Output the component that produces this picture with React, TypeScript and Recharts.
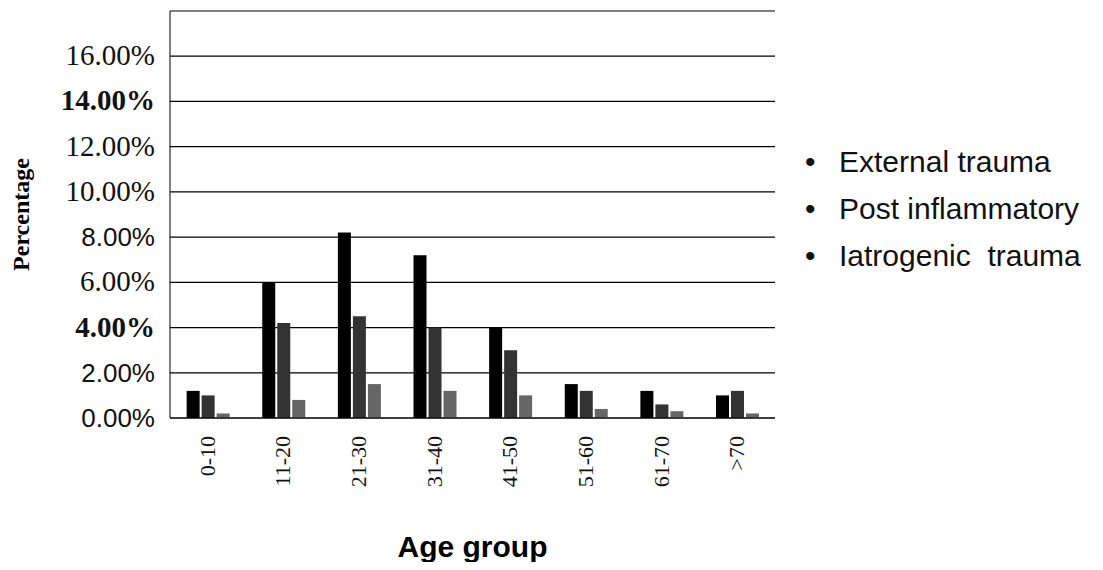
import { BarChart, Bar, XAxis, YAxis, CartesianGrid } from 'recharts';

const ageGroups = ['0-10', '11-20', '21-30', '31-40', '41-50', '51-60', '61-70', '>70'];
const externalTrauma = [0.012, 0.06, 0.082, 0.072, 0.04, 0.015, 0.012, 0.01];
const postInflammatory = [0.01, 0.042, 0.045, 0.04, 0.03, 0.012, 0.006, 0.012];
const iatrogenicTrauma = [0.002, 0.008, 0.015, 0.012, 0.01, 0.004, 0.003, 0.002];
const yTicks = [0, 0.02, 0.04, 0.06, 0.08, 0.1, 0.12, 0.14, 0.16];
const seriesNames = ['External trauma', 'Post inflammatory', 'Iatrogenic  trauma'];

const data = ageGroups.map((g, i) => ({
  name: g,
  ext: externalTrauma[i],
  post: postInflammatory[i],
  iat: iatrogenicTrauma[i],
}));

const serif = '"Liberation Serif", "Times New Roman", serif';
const sans = '"Liberation Sans", Arial, sans-serif';

// the source mixes fonts on the y ticks, keep that
const YTick = (props: any) => {
  const { x, y, payload } = props;
  const v = payload.value;
  const isSans = v === 0 || v === 0.02 || v === 0.08;
  const isBold = v === 0.04 || v === 0.14;
  return (
    <text
      x={x}
      y={y}
      dy={9}
      textAnchor="end"
      fill="#111"
      fontSize={isSans ? 26 : 29}
      fontFamily={isSans ? sans : serif}
      fontWeight={isBold ? 'bold' : 'normal'}
    >
      {(v * 100).toFixed(2) + '%'}
    </text>
  );
};

const XTick = (props: any) => {
  const { x, y, payload } = props;
  return (
    <text
      transform={`translate(${x},${y + 10}) rotate(-90)`}
      textAnchor="end"
      dy={7}
      fill="#111"
      fontSize={22}
      fontFamily={serif}
    >
      {payload.value}
    </text>
  );
};

const LegendBox = () => (
  <div
    style={{
      position: 'absolute',
      left: 797,
      top: 130,
      width: 300,
      fontFamily: sans,
      fontSize: 30,
      color: '#111',
    }}
  >
    {seriesNames.map((n) => (
      <div key={n} style={{ height: 47, lineHeight: '47px', whiteSpace: 'pre' }}>
        <span style={{ display: 'inline-block', width: 34 }}>•</span>
        {n}
      </div>
    ))}
  </div>
);

const App = () => {
  return (
    <div style={{ position: 'relative', width: 1087, height: 554 }}>
      <BarChart
        width={1087}
        height={554}
        data={data}
        margin={{ top: 3, right: 320, left: 0, bottom: 0 }}
        barCategoryGap="22%"
        barGap={2}
      >
        <CartesianGrid vertical={false} stroke="#000" strokeWidth={1.2} />
        <XAxis
          dataKey="name"
          height={144}
          interval={0}
          tick={<XTick />}
          tickLine={false}
          axisLine={{ stroke: '#000' }}
          label={{
            value: 'Age group',
            position: 'insideBottom',
            offset: 5,
            style: { fontFamily: sans, fontSize: 30, fontWeight: 'bold', fill: '#000' },
          }}
        />
        <YAxis
          width={162}
          domain={[0, 0.18]}
          ticks={yTicks}
          tick={<YTick />}
          tickSize={0}
          tickMargin={15}
          tickLine={false}
          axisLine={{ stroke: '#000' }}
          label={{
            value: 'Percentage',
            angle: -90,
            position: 'insideLeft',
            offset: 12,
            style: { fontFamily: serif, fontSize: 24, fontWeight: 'bold', fill: '#000', textAnchor: 'middle' },
          }}
        />
        <Bar dataKey="ext" name={seriesNames[0]} fill="#000" isAnimationActive={false} />
        <Bar dataKey="post" name={seriesNames[1]} fill="#333" isAnimationActive={false} />
        <Bar dataKey="iat" name={seriesNames[2]} fill="#666" isAnimationActive={false} />
      </BarChart>
      <LegendBox />
    </div>
  );
};

export default App;
